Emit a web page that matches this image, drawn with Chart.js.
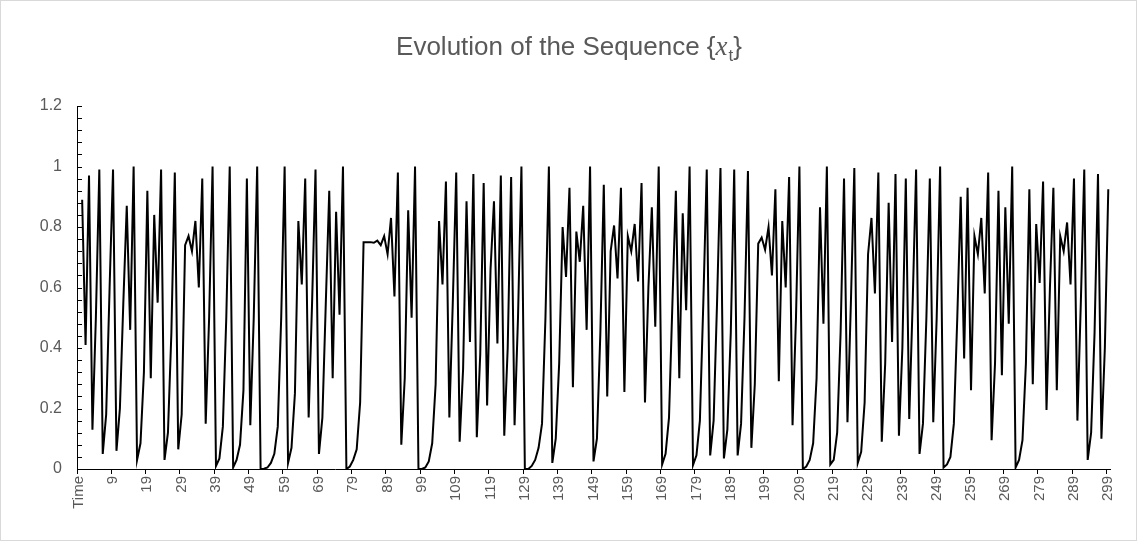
<!DOCTYPE html>
<html>
<head>
<meta charset="utf-8">
<script src="https://cdn.jsdelivr.net/npm/chart.js@4.4.1/dist/chart.umd.min.js"></script>
<style>
  html, body { margin: 0; padding: 0; background: #fff; }
  #wrap { width: 1137px; height: 541px; position: relative; }
</style>
</head>
<body>
<div id="wrap"><canvas id="seqChart" width="1137" height="541"></canvas></div>
<script>
// category labels: header cell "Time" then t = 0..299
const timeLabels = ["Time"].concat(Array.from({ length: 300 }, (_, i) => String(i)));

// x_t (first slot is the header row, no value)
const xtValues = [null,
  0.89, 0.41, 0.97, 0.13, 0.5, 0.99, 0.05, 0.18, 0.6, 0.99,
  0.06, 0.2, 0.55, 0.87, 0.46, 1.0, 0.03, 0.085, 0.32, 0.92,
  0.30, 0.84, 0.55, 0.99, 0.03, 0.12, 0.45, 0.98, 0.065, 0.18,
  0.74, 0.77, 0.72, 0.82, 0.60, 0.96, 0.15, 0.5, 1.0, 0.01,
  0.035, 0.14, 0.5, 1.0, 0.005, 0.03, 0.08, 0.26, 0.96, 0.145,
  0.5, 1.0, 0.0, 0.001, 0.005, 0.02, 0.05, 0.14, 0.5, 1.0,
  0.02, 0.07, 0.25, 0.82, 0.61, 0.96, 0.17, 0.55, 0.99, 0.05,
  0.17, 0.55, 0.92, 0.30, 0.85, 0.51, 1.0, 0.0, 0.008, 0.03,
  0.065, 0.22, 0.75, 0.75, 0.75, 0.748, 0.755, 0.74, 0.77, 0.71,
  0.83, 0.57, 0.98, 0.08, 0.3, 0.855, 0.50, 1.0, 0.0, 0.0,
  0.005, 0.025, 0.085, 0.28, 0.82, 0.61, 0.95, 0.17, 0.55, 0.98,
  0.09, 0.33, 0.885, 0.42, 0.975, 0.105, 0.38, 0.945, 0.21, 0.66,
  0.885, 0.415, 0.97, 0.11, 0.4, 0.965, 0.145, 0.5, 1.0, 0.0,
  0.0, 0.01, 0.03, 0.07, 0.15, 0.5, 1.0, 0.02, 0.1, 0.35,
  0.80, 0.635, 0.93, 0.27, 0.785, 0.685, 0.87, 0.46, 1.0, 0.025,
  0.10, 0.45, 0.94, 0.24, 0.72, 0.805, 0.63, 0.93, 0.255, 0.77,
  0.72, 0.81, 0.62, 0.945, 0.22, 0.6, 0.865, 0.47, 1.0, 0.015,
  0.05, 0.17, 0.55, 0.92, 0.30, 0.845, 0.525, 1.0, 0.013, 0.045,
  0.16, 0.55, 0.99, 0.045, 0.16, 0.55, 0.995, 0.035, 0.13, 0.45,
  0.99, 0.045, 0.15, 0.5, 0.985, 0.07, 0.28, 0.745, 0.765, 0.725,
  0.80, 0.64, 0.925, 0.29, 0.82, 0.60, 0.965, 0.145, 0.5, 1.0,
  0.0, 0.008, 0.03, 0.085, 0.3, 0.865, 0.48, 1.0, 0.015, 0.03,
  0.12, 0.45, 0.96, 0.155, 0.55, 0.995, 0.02, 0.057, 0.22, 0.71,
  0.83, 0.58, 0.98, 0.09, 0.35, 0.88, 0.42, 0.975, 0.11, 0.4,
  0.96, 0.165, 0.55, 0.99, 0.05, 0.15, 0.5, 0.96, 0.155, 0.5,
  1.0, 0.005, 0.015, 0.04, 0.15, 0.5, 0.90, 0.365, 0.93, 0.26,
  0.77, 0.71, 0.83, 0.58, 0.98, 0.095, 0.35, 0.92, 0.31, 0.865,
  0.48, 1.0, 0.005, 0.03, 0.095, 0.35, 0.925, 0.28, 0.81, 0.615,
  0.95, 0.195, 0.6, 0.93, 0.26, 0.77, 0.72, 0.815, 0.61, 0.96,
  0.16, 0.55, 0.99, 0.03, 0.12, 0.45, 0.975, 0.10, 0.4, 0.925
];

const yTicks = [0, 0.2, 0.4, 0.6, 0.8, 1, 1.2];
const yMinorStep = 0.04;

const textGrey = "#595959";

// title with an italic x and subscript t, like the equation object in the original
const titlePlugin = {
  id: "seqTitle",
  afterDraw(chart) {
    const ctx = chart.ctx;
    const parts = [
      { t: "Evolution of the Sequence {", f: "26px 'Liberation Sans'", dy: 0 },
      { t: "x", f: "italic 27px 'Liberation Serif'", dy: 0 },
      { t: "t", f: "17px 'Liberation Sans'", dy: 6 },
      { t: "}", f: "26px 'Liberation Sans'", dy: 0 }
    ];
    ctx.save();
    let total = 0;
    parts.forEach(p => { ctx.font = p.f; p.w = ctx.measureText(p.t).width; total += p.w; });
    let x = chart.width / 2 - total / 2;
    const base = 55;
    ctx.fillStyle = textGrey;
    ctx.textBaseline = "alphabetic";
    parts.forEach(p => {
      ctx.font = p.f;
      ctx.fillText(p.t, x, base + p.dy);
      x += p.w + (p.t === "x" ? 1 : 0);
    });
    ctx.restore();
  }
};

// small inside tick marks on the value axis
const yTickPlugin = {
  id: "yMinor",
  afterDraw(chart) {
    const y = chart.scales.y;
    const ctx = chart.ctx;
    const left = chart.chartArea.left;
    ctx.save();
    ctx.strokeStyle = "#000";
    ctx.lineWidth = 1;
    const n = Math.round((y.max - y.min) / yMinorStep);
    for (let i = 0; i <= n; i++) {
      const py = Math.round(y.getPixelForValue(y.min + i * yMinorStep)) + 0.5;
      ctx.beginPath();
      ctx.moveTo(left, py);
      ctx.lineTo(left + 5, py);
      ctx.stroke();
    }
    ctx.restore();
  }
};

const framePlugin = {
  id: "frame",
  afterDraw(chart) {
    const ctx = chart.ctx;
    ctx.save();
    ctx.strokeStyle = "#d9d9d9";
    ctx.lineWidth = 1;
    ctx.strokeRect(0.5, 0.5, chart.width - 1, chart.height - 1);
    ctx.restore();
  }
};

new Chart(document.getElementById("seqChart"), {
  type: "line",
  data: {
    labels: timeLabels,
    datasets: [{
      label: "x_t",
      data: xtValues,
      borderColor: "#000",
      borderWidth: 2,
      pointRadius: 0,
      tension: 0,
      fill: false
    }]
  },
  options: {
    responsive: false,
    animation: false,
    layout: { padding: { top: 106, right: 27, left: 0, bottom: 0 } },
    plugins: {
      legend: { display: false },
      title: { display: false },
      tooltip: { enabled: false }
    },
    scales: {
      x: {
        type: "category",
        offset: true,
        border: { color: "#000", width: 1 },
        grid: {
          offset: true,
          drawOnChartArea: false,
          tickLength: 5,
          color: ctx => (ctx.index % 10 === 0 ? "#000" : "rgba(0,0,0,0)")
        },
        ticks: {
          autoSkip: false,
          maxRotation: 90,
          minRotation: 90,
          padding: 2,
          color: textGrey,
          font: { family: "'Liberation Sans'", size: 15 },
          callback: function (val, i) {
            return i % 10 === 0 ? this.getLabelForValue(val) : "";
          }
        },
        afterFit: scale => { scale.height = 72; }
      },
      y: {
        min: 0,
        max: 1.2,
        border: { color: "#000", width: 1 },
        grid: { drawOnChartArea: false, drawTicks: false },
        ticks: {
          stepSize: 0.2,
          padding: 15,
          color: textGrey,
          font: { family: "'Liberation Sans'", size: 16 },
          callback: v => {
            const hit = yTicks.find(t => Math.abs(t - v) < 1e-6);
            return hit === undefined ? "" : String(hit);
          }
        },
        afterFit: scale => { scale.width = 77; }
      }
    }
  },
  plugins: [titlePlugin, yTickPlugin, framePlugin]
});
</script>
</body>
</html>
